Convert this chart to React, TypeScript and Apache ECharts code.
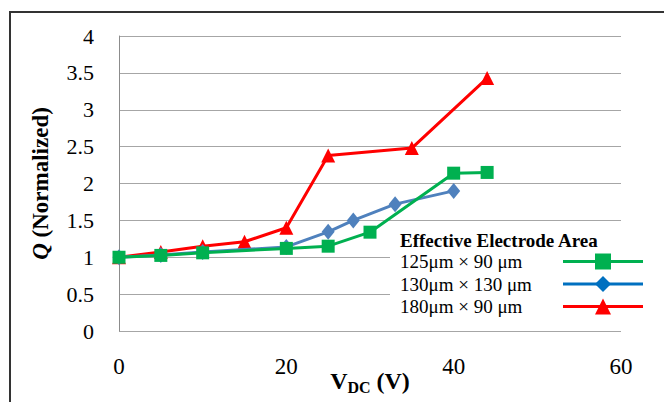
import React, { useEffect, useRef } from "react";
import * as echarts from "echarts";

const seriesNames = ["125μm × 90 μm", "130μm × 130 μm", "180μm × 90 μm"];
const greenX = [0, 5, 10, 20, 25, 30, 40, 44];
const greenY = [1.0, 1.025, 1.06, 1.12, 1.15, 1.34, 2.14, 2.15];
const blueX = [0, 5, 10, 20, 25, 28, 33, 40];
const blueY = [1.0, 1.03, 1.07, 1.14, 1.345, 1.5, 1.72, 1.9];
const redX = [0, 5, 10, 15, 20, 25, 35, 44];
const redY = [1.0, 1.07, 1.15, 1.21, 1.4, 2.38, 2.48, 3.43];
const legendTitle = "Effective Electrode Area";

const zip = (xs: number[], ys: number[]) => xs.map((x, i) => [x, ys[i]]);

export default function App() {
  const ref = useRef<HTMLDivElement>(null);
  useEffect(() => {
    const chart = echarts.init(ref.current!, null, { renderer: "svg" });
    const font = "Liberation Serif";
    chart.setOption({
      animation: false,
      backgroundColor: "#fff",
      grid: { left: 119, right: 43, top: 36, bottom: 71, containLabel: false, outerBoundsMode: "none" },
      xAxis: {
        type: "value",
        min: 0,
        max: 60,
        interval: 20,
        axisLine: { show: false },
        axisTick: { show: false },
        splitLine: { show: false },
        axisLabel: { color: "#000", fontSize: 23, fontFamily: font, margin: 24 },
        name: "{b|V}{s|DC}{b| (V)}",
        nameLocation: "middle",
        nameGap: 38,
        nameMoveOverlap: false,
        nameTextStyle: {
          fontFamily: font,
          rich: {
            b: { fontSize: 24, fontWeight: "bold", fontFamily: font, color: "#000", verticalAlign: "top", lineHeight: 25 },
            s: { fontSize: 16, fontWeight: "bold", fontFamily: font, color: "#000", verticalAlign: "top", lineHeight: 16, padding: [10, 0, 0, 0] },
          },
        },
      },
      yAxis: {
        type: "value",
        min: 0,
        max: 4,
        interval: 0.5,
        axisLine: { show: true, lineStyle: { color: "#8c8c8c", width: 1 } },
        axisTick: { show: false },
        splitLine: { show: true, lineStyle: { color: "#a6a6a6", width: 1 } },
        axisLabel: { color: "#000", fontSize: 22, fontFamily: font, margin: 25 },
        name: "{q|Q}{n| (Normalized)}",
        nameLocation: "middle",
        nameGap: 67,
        nameMoveOverlap: false,
        nameTextStyle: {
          fontFamily: font,
          rich: {
            q: { fontSize: 23, fontWeight: "bold", fontStyle: "italic", fontFamily: font, color: "#000" },
            n: { fontSize: 23, fontWeight: "bold", fontFamily: font, color: "#000" },
          },
        },
      },
      legend: {
        orient: "vertical",
        left: 400,
        top: 252,
        align: "right",
        itemWidth: 80,
        itemHeight: 20,
        itemGap: 3.5,
        padding: 0,
        formatter: (n: string) => "{a|" + n + "}",
        lineStyle: { width: 3 },
        textStyle: {
          fontFamily: font,
          fontSize: 19,
          color: "#000",
          rich: { a: { width: 158, align: "left", fontFamily: font, fontSize: 19, lineHeight: 20, color: "#000" } },
        },
        data: [
          { name: seriesNames[0] },
          { name: seriesNames[1], itemStyle: { color: "#0070c0" }, lineStyle: { color: "#0070c0", width: 3 } },
          { name: seriesNames[2] },
        ],
      },
      graphic: [
        { type: "rect", z: 1, shape: { x: 390, y: 228, width: 262, height: 92 }, style: { fill: "#fff" } },
        { type: "text", z: 2, x: 400, y: 231, style: { text: legendTitle, fontFamily: font, fontSize: 19, fontWeight: "bold", fill: "#000" } },
        { type: "rect", z: 10, shape: { x: 10, y: 12, width: 700, height: 450 }, style: { fill: "none", stroke: "#333", lineWidth: 2 } },
      ],
      series: [
        {
          name: seriesNames[2],
          type: "line",
          data: zip(redX, redY),
          color: "#ff0000",
          symbol: "triangle",
          symbolSize: 14,
          lineStyle: { width: 3 },
          z: 2,
        },
        {
          name: seriesNames[1],
          type: "line",
          data: zip(blueX, blueY),
          color: "#4f81bd",
          symbol: "diamond",
          symbolSize: [13, 16],
          lineStyle: { width: 3 },
          z: 3,
        },
        {
          name: seriesNames[0],
          type: "line",
          data: zip(greenX, greenY),
          color: "#00b050",
          symbol: "rect",
          symbolSize: 13,
          lineStyle: { width: 3 },
          z: 4,
        },
      ],
    });
    return () => chart.dispose();
  }, []);
  return <div ref={ref} style={{ position: "absolute", left: 0, top: 0, width: 664, height: 402 }} />;
}
